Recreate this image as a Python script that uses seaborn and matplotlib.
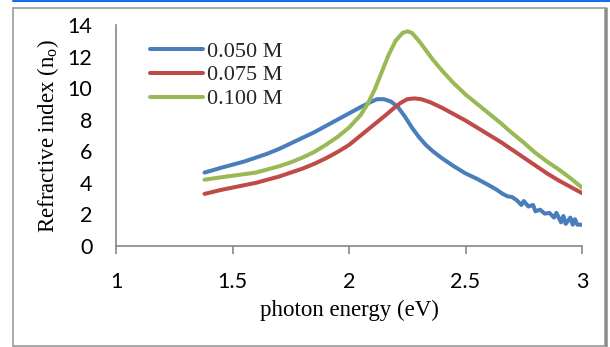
import numpy as np
import pandas as pd
import matplotlib
matplotlib.use("Agg")
import matplotlib.pyplot as plt
from matplotlib.patches import Rectangle
from matplotlib.lines import Line2D
import seaborn as sns

# ---- data ----
series_labels = ["0.050 M", "0.075 M", "0.100 M"]

x_050 = [1.38, 1.45, 1.50, 1.55, 1.60, 1.65, 1.70, 1.75, 1.80, 1.85, 1.90, 1.95, 2.00,
         2.05, 2.09, 2.12, 2.15, 2.18, 2.21, 2.24, 2.27, 2.30, 2.33, 2.36, 2.40, 2.45,
         2.50, 2.55, 2.60, 2.63, 2.66, 2.68, 2.70, 2.72, 2.74, 2.75, 2.77, 2.79, 2.80,
         2.82, 2.84, 2.86, 2.88, 2.89, 2.91, 2.92, 2.93, 2.95, 2.96, 2.97, 2.98, 3.00]
y_050 = [4.65, 4.95, 5.15, 5.35, 5.60, 5.85, 6.15, 6.50, 6.85, 7.20, 7.60, 8.00, 8.40,
         8.80, 9.10, 9.30, 9.30, 9.15, 8.80, 8.20, 7.50, 6.90, 6.40, 6.00, 5.55, 5.05,
         4.60, 4.25, 3.85, 3.60, 3.30, 3.15, 3.10, 2.90, 2.60, 2.85, 2.50, 2.60, 2.20,
         2.30, 2.05, 2.10, 1.80, 2.10, 1.50, 1.90, 1.40, 1.80, 1.35, 1.70, 1.35, 1.35]

x_075 = [1.38, 1.45, 1.50, 1.55, 1.60, 1.65, 1.70, 1.75, 1.80, 1.85, 1.90, 1.95, 2.00,
         2.05, 2.10, 2.15, 2.19, 2.22, 2.25, 2.28, 2.31, 2.35, 2.40, 2.45, 2.50, 2.55,
         2.60, 2.65, 2.70, 2.75, 2.80, 2.85, 2.90, 2.95, 3.00]
y_075 = [3.30, 3.55, 3.70, 3.85, 4.00, 4.20, 4.40, 4.65, 4.90, 5.20, 5.55, 5.95, 6.40,
         7.00, 7.60, 8.20, 8.70, 9.05, 9.30, 9.35, 9.30, 9.10, 8.75, 8.35, 7.95, 7.50,
         7.05, 6.60, 6.10, 5.60, 5.10, 4.60, 4.15, 3.75, 3.35]

x_100 = [1.38, 1.45, 1.50, 1.55, 1.60, 1.65, 1.70, 1.75, 1.80, 1.85, 1.90, 1.95, 2.00,
         2.05, 2.08, 2.11, 2.14, 2.17, 2.20, 2.23, 2.25, 2.27, 2.30, 2.33, 2.36, 2.40,
         2.45, 2.50, 2.55, 2.60, 2.65, 2.70, 2.75, 2.80, 2.85, 2.90, 2.95, 3.00]
y_100 = [4.20, 4.35, 4.45, 4.55, 4.65, 4.85, 5.05, 5.30, 5.60, 5.95, 6.40, 6.90, 7.50,
         8.30, 9.00, 9.90, 11.0, 12.1, 13.0, 13.5, 13.6, 13.5, 13.0, 12.4, 11.8, 11.1,
         10.3, 9.60, 9.00, 8.40, 7.80, 7.15, 6.55, 5.90, 5.35, 4.85, 4.30, 3.70]

x_ticks = [1, 1.5, 2, 2.5, 3]
x_tick_labels = ["1", "1.5", "2", "2.5", "3"]
y_ticks = [0, 2, 4, 6, 8, 10, 12, 14]

colors = ["#4A7EBB", "#BE4B48", "#98B954"]

frames = []
for lab, xs, ys in zip(series_labels, [x_050, x_075, x_100], [y_050, y_075, y_100]):
    frames.append(pd.DataFrame({"energy": xs, "n": ys, "conc": lab}))
df = pd.concat(frames, ignore_index=True)

# ---- style ----
sns.set_theme(style="white")
plt.rcParams["font.family"] = ["Lato", "DejaVu Sans"]
plt.rcParams["mathtext.fontset"] = "custom"
plt.rcParams["mathtext.rm"] = "Liberation Serif"

fig = plt.figure(figsize=(6.10, 3.47), dpi=100)
ax = fig.add_axes([116 / 610, 1 - 246 / 347, (582 - 116) / 610, (246 - 25) / 347])

sns.lineplot(data=df, x="energy", y="n", hue="conc", palette=colors,
             estimator=None, sort=False, linewidth=2.9, ax=ax)

ax.set_xlim(1, 3)
ax.set_ylim(0, 14)
ax.set_xticks(x_ticks)
ax.set_xticklabels(x_tick_labels)
ax.set_yticks(y_ticks)

axis_gray = "#868686"
for s in ["top", "right"]:
    ax.spines[s].set_visible(False)
for s in ["left", "bottom"]:
    ax.spines[s].set_color(axis_gray)
    ax.spines[s].set_linewidth(1.2)

ax.tick_params(axis="x", which="major", bottom=True, direction="out", length=6,
               width=1.2, color=axis_gray, pad=13, labelsize=15.5, labelcolor="black")
ax.tick_params(axis="y", which="major", left=False, length=0, pad=17,
               labelsize=15.5, labelcolor="black")

serif = ["Liberation Serif", "DejaVu Serif"]
ax.set_xlabel("photon energy (eV)", family=serif, fontsize=16.5, color="black", labelpad=5)
ax.set_ylabel("Refractive index (n$_\\mathrm{o}$)", family=serif, fontsize=16.5,
              color="black", labelpad=5)

leg = ax.legend(loc="upper left", bbox_to_anchor=(150 / 610, 1 - 41 / 347),
                bbox_transform=fig.transFigure, frameon=False, borderpad=0,
                handlelength=2.4, handletextpad=0.18, labelspacing=0.15,
                borderaxespad=0, prop={"family": serif, "size": 16})
for line in leg.get_lines():
    line.set_linewidth(2.9)

# chart border and top accent line
fig.add_artist(Rectangle((13 / 610, 1 - 346 / 347), (605 - 13) / 610, (346 - 8) / 347,
                         transform=fig.transFigure, fill=False,
                         edgecolor="#9a9a9a", linewidth=1.2))
fig.add_artist(Line2D([605.5 / 610, 605.5 / 610], [1 - 346 / 347, 1 - 8 / 347],
                      transform=fig.transFigure, color="#8a8a8a", linewidth=1.8))
fig.add_artist(Line2D([13 / 610, 1], [1 - 0.8 / 347, 1 - 0.8 / 347],
                      transform=fig.transFigure, color="#1a6cf0", linewidth=1.5))

fig.savefig("out.png", dpi=100)
